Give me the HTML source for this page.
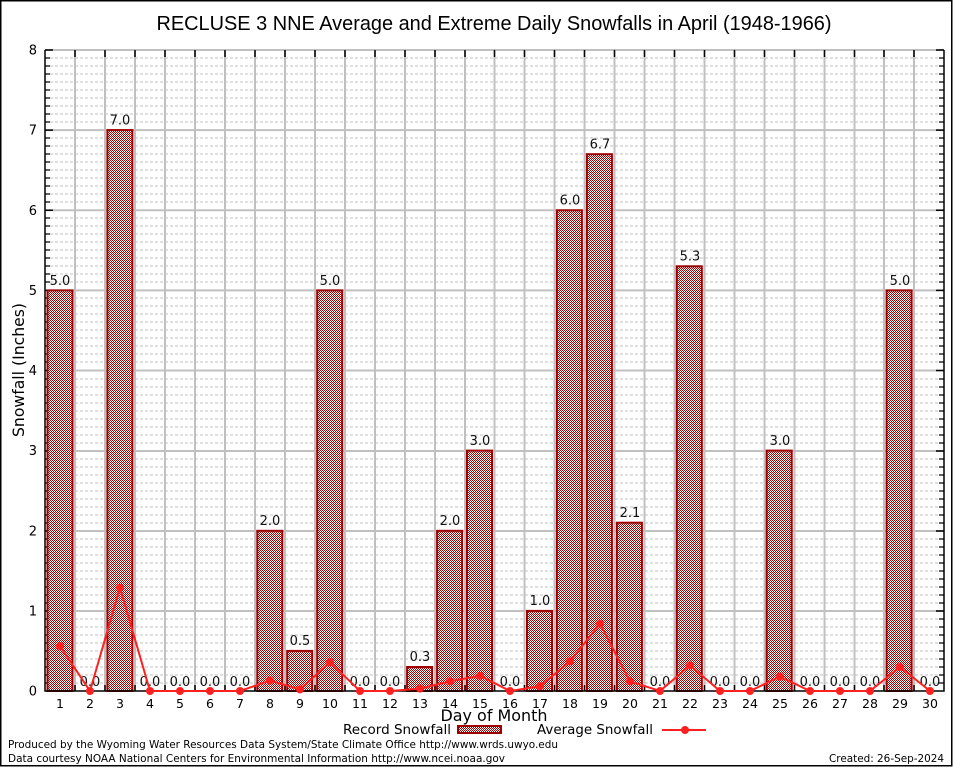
<!DOCTYPE html>
<html><head><meta charset="utf-8"><style>
html,body{margin:0;padding:0;background:#fff;}
svg{display:block;}
text{font-family:"DejaVu Sans","Liberation Sans",sans-serif;}
.ser{font-family:"Liberation Serif","DejaVu Serif",serif;font-size:12.5px;fill:#000;}
.val{font-size:13px;fill:#111;text-anchor:middle;}
</style></head><body>
<svg width="954" height="768" viewBox="0 0 954 768" xmlns="http://www.w3.org/2000/svg">
<defs>
<pattern id="p" width="2" height="2" patternUnits="userSpaceOnUse">
<rect width="2" height="2" fill="#fff"/>
<rect width="1" height="1" fill="#a40000"/>
<rect x="1" y="1" width="1" height="1" fill="#a40000"/>
</pattern>
</defs>
<rect x="0" y="0" width="954" height="768" fill="#fff"/>
<rect x="0.75" y="0.75" width="951" height="765" fill="none" stroke="#000" stroke-width="1.5"/>

<text x="494" y="30" text-anchor="middle" font-size="20" fill="#000" style="font-family:'Liberation Sans',sans-serif" textLength="675" lengthAdjust="spacingAndGlyphs">RECLUSE 3 NNE Average and Extreme Daily Snowfalls in April (1948-1966)</text>

<!-- dashed minor grid -->
<path fill="none" stroke="#c0c0c0" stroke-width="1" stroke-dasharray="3,2" d="
M45 683H944M45 675H944M45 667H944M45 659H944M45 651H944M45 643H944M45 635H944M45 627H944M45 619H944
M45 603H944M45 595H944M45 587H944M45 579H944M45 571H944M45 563H944M45 555H944M45 547H944M45 539H944
M45 523H944M45 515H944M45 507H944M45 499H944M45 491H944M45 483H944M45 475H944M45 467H944M45 459H944
M45 443H944M45 435H944M45 427H944M45 419H944M45 411H944M45 403H944M45 395H944M45 387H944M45 379H944
M45 362H944M45 354H944M45 346H944M45 338H944M45 330H944M45 322H944M45 314H944M45 306H944M45 298H944
M45 282H944M45 274H944M45 266H944M45 258H944M45 250H944M45 242H944M45 234H944M45 226H944M45 218H944
M45 202H944M45 194H944M45 186H944M45 178H944M45 170H944M45 162H944M45 154H944M45 146H944M45 138H944
M45 122H944M45 114H944M45 106H944M45 98H944M45 90H944M45 82H944M45 74H944M45 66H944M45 58H944"/>
<!-- solid major grid -->
<path fill="none" stroke="#c0c0c0" stroke-width="2" d="
M45 611H944M45 531H944M45 451H944M45 370.5H944M45 290.4H944M45 210.3H944M45 130.1H944M45 50H944
M75 50V691M105 50V691M135 50V691M165 50V691M195 50V691M225 50V691M255 50V691M285 50V691M315 50V691M345 50V691
M375 50V691M405 50V691M435 50V691M465 50V691M494.5 50V691M524.5 50V691M554.5 50V691M584.5 50V691M614.5 50V691M644.5 50V691
M674.5 50V691M704.5 50V691M734.5 50V691M764.5 50V691M794.5 50V691M824.5 50V691M854.5 50V691M884 50V691M914 50V691"/>

<!-- axis ticks -->
<path fill="none" stroke="#000" stroke-width="1.5" d="
M75 50V57M105 50V57M135 50V57M165 50V57M195 50V57M225 50V57M255 50V57M285 50V57M315 50V57M345 50V57
M375 50V57M405 50V57M435 50V57M465 50V57M494.5 50V57M524.5 50V57M554.5 50V57M584.5 50V57M614.5 50V57M644.5 50V57
M674.5 50V57M704.5 50V57M734.5 50V57M764.5 50V57M794.5 50V57M824.5 50V57M854.5 50V57M884 50V57M914 50V57
M75 691V685M105 691V685M135 691V685M165 691V685M195 691V685M225 691V685M255 691V685M285 691V685M315 691V685M345 691V685
M375 691V685M405 691V685M435 691V685M465 691V685M494.5 691V685M524.5 691V685M554.5 691V685M584.5 691V685M614.5 691V685M644.5 691V685
M674.5 691V685M704.5 691V685M734.5 691V685M764.5 691V685M794.5 691V685M824.5 691V685M854.5 691V685M884 691V685M914 691V685
M45 611H53M45 531H53M45 451H53M45 370.5H53M45 290.4H53M45 210.3H53M45 130.1H53M45 50H53
M944 611H936M944 531H936M944 451H936M944 370.5H936M944 290.4H936M944 210.3H936M944 130.1H936M944 50H936"/>
<path fill="none" stroke="#000" stroke-width="1.2" d="
M45 683H50M45 675H50M45 667H50M45 659H50M45 651H50M45 643H50M45 635H50M45 627H50M45 619H50
M45 603H50M45 595H50M45 587H50M45 579H50M45 571H50M45 563H50M45 555H50M45 547H50M45 539H50
M45 523H50M45 515H50M45 507H50M45 499H50M45 491H50M45 483H50M45 475H50M45 467H50M45 459H50
M45 443H50M45 435H50M45 427H50M45 419H50M45 411H50M45 403H50M45 395H50M45 387H50M45 379H50
M45 362H50M45 354H50M45 346H50M45 338H50M45 330H50M45 322H50M45 314H50M45 306H50M45 298H50
M45 282H50M45 274H50M45 266H50M45 258H50M45 250H50M45 242H50M45 234H50M45 226H50M45 218H50
M45 202H50M45 194H50M45 186H50M45 178H50M45 170H50M45 162H50M45 154H50M45 146H50M45 138H50
M45 122H50M45 114H50M45 106H50M45 98H50M45 90H50M45 82H50M45 74H50M45 66H50M45 58H50
M944 683H939M944 675H939M944 667H939M944 659H939M944 651H939M944 643H939M944 635H939M944 627H939M944 619H939
M944 603H939M944 595H939M944 587H939M944 579H939M944 571H939M944 563H939M944 555H939M944 547H939M944 539H939
M944 523H939M944 515H939M944 507H939M944 499H939M944 491H939M944 483H939M944 475H939M944 467H939M944 459H939
M944 443H939M944 435H939M944 427H939M944 419H939M944 411H939M944 403H939M944 395H939M944 387H939M944 379H939
M944 362H939M944 354H939M944 346H939M944 338H939M944 330H939M944 322H939M944 314H939M944 306H939M944 298H939
M944 282H939M944 274H939M944 266H939M944 258H939M944 250H939M944 242H939M944 234H939M944 226H939M944 218H939
M944 202H939M944 194H939M944 186H939M944 178H939M944 170H939M944 162H939M944 154H939M944 146H939M944 138H939
M944 122H939M944 114H939M944 106H939M944 98H939M944 90H939M944 82H939M944 74H939M944 66H939M944 58H939"/>

<!-- bars -->
<g fill="url(#p)" stroke="#a00000" stroke-width="2">
<rect x="47.5" y="290.4" width="25" height="400.6"/>
<rect x="107.4" y="130.1" width="25" height="560.9"/>
<rect x="257.3" y="530.8" width="25" height="160.2"/>
<rect x="287.2" y="650.9" width="25" height="40.1"/>
<rect x="317.2" y="290.4" width="25" height="400.6"/>
<rect x="407.1" y="667" width="25" height="24"/>
<rect x="437.1" y="530.8" width="25" height="160.2"/>
<rect x="467" y="450.6" width="25" height="240.4"/>
<rect x="527" y="610.9" width="25" height="80.1"/>
<rect x="556.9" y="210.3" width="25" height="480.7"/>
<rect x="586.9" y="154.2" width="25" height="536.8"/>
<rect x="616.9" y="522.7" width="25" height="168.3"/>
<rect x="676.8" y="266.3" width="25" height="424.7"/>
<rect x="766.7" y="450.6" width="25" height="240.4"/>
<rect x="886.6" y="290.4" width="25" height="400.6"/>
</g>

<!-- axes lines -->
<path fill="none" stroke="#000" stroke-width="1.5" d="M45 50V691H944V50"/>

<!-- value labels -->
<g class="val">
<text x="60" y="285">5.0</text>
<text x="90" y="686">0.0</text>
<text x="120" y="124.5">7.0</text>
<text x="150" y="686">0.0</text>
<text x="180" y="686">0.0</text>
<text x="210" y="686">0.0</text>
<text x="240" y="686">0.0</text>
<text x="270" y="525">2.0</text>
<text x="300" y="645">0.5</text>
<text x="330" y="285">5.0</text>
<text x="360" y="686">0.0</text>
<text x="390" y="686">0.0</text>
<text x="420" y="661">0.3</text>
<text x="450" y="525">2.0</text>
<text x="480" y="445">3.0</text>
<text x="510" y="686">0.0</text>
<text x="540" y="605">1.0</text>
<text x="570" y="204.5">6.0</text>
<text x="600" y="148.5">6.7</text>
<text x="630" y="517">2.1</text>
<text x="660" y="686">0.0</text>
<text x="690" y="260.5">5.3</text>
<text x="720" y="686">0.0</text>
<text x="750" y="686">0.0</text>
<text x="780" y="445">3.0</text>
<text x="810" y="686">0.0</text>
<text x="840" y="686">0.0</text>
<text x="870" y="686">0.0</text>
<text x="900" y="285">5.0</text>
<text x="930" y="686">0.0</text>
</g>

<!-- average line -->
<polyline fill="none" stroke="#ff2020" stroke-width="2" points="60,646.1 90,691 120,587.6 150,691 180,691 210,691 240,691 270,680.6 300,689.4 330,662.2 360,691 390,691 420,688.6 450,681.4 480,675.8 510,691 540,686.2 570,661.4 600,623.7 630,681.4 660,691 690,665.4 720,691 750,691 780,676.6 810,691 840,691 870,691 900,667 930,691"/>
<g fill="#ff2020" stroke="none">
<circle cx="60" cy="646.1" r="4"/><circle cx="90" cy="691" r="4"/><circle cx="120" cy="587.6" r="4"/>
<circle cx="150" cy="691" r="4"/><circle cx="180" cy="691" r="4"/><circle cx="210" cy="691" r="4"/>
<circle cx="240" cy="691" r="4"/><circle cx="270" cy="680.6" r="4"/><circle cx="300" cy="689.4" r="4"/>
<circle cx="330" cy="662.2" r="4"/><circle cx="360" cy="691" r="4"/><circle cx="390" cy="691" r="4"/>
<circle cx="420" cy="688.6" r="4"/><circle cx="450" cy="681.4" r="4"/><circle cx="480" cy="675.8" r="4"/>
<circle cx="510" cy="691" r="4"/><circle cx="540" cy="686.2" r="4"/><circle cx="570" cy="661.4" r="4"/>
<circle cx="600" cy="623.7" r="4"/><circle cx="630" cy="681.4" r="4"/><circle cx="660" cy="691" r="4"/>
<circle cx="690" cy="665.4" r="4"/><circle cx="720" cy="691" r="4"/><circle cx="750" cy="691" r="4"/>
<circle cx="780" cy="676.6" r="4"/><circle cx="810" cy="691" r="4"/><circle cx="840" cy="691" r="4"/>
<circle cx="870" cy="691" r="4"/><circle cx="900" cy="667" r="4"/><circle cx="930" cy="691" r="4"/>
</g>

<!-- y tick labels -->
<g class="ser" text-anchor="end" style="font-size:13px">
<text x="37" y="695.5">0</text>
<text x="37" y="615.5">1</text>
<text x="37" y="535.5">2</text>
<text x="37" y="455">3</text>
<text x="37" y="375">4</text>
<text x="37" y="295">5</text>
<text x="37" y="215">6</text>
<text x="37" y="134.5">7</text>
<text x="37" y="54.5">8</text>
</g>
<!-- x tick labels -->
<g class="ser" text-anchor="middle">
<text x="60" y="708">1</text><text x="90" y="708">2</text><text x="120" y="708">3</text><text x="150" y="708">4</text>
<text x="180" y="708">5</text><text x="210" y="708">6</text><text x="240" y="708">7</text><text x="270" y="708">8</text>
<text x="300" y="708">9</text><text x="330" y="708">10</text><text x="360" y="708">11</text><text x="390" y="708">12</text>
<text x="420" y="708">13</text><text x="450" y="708">14</text><text x="480" y="708">15</text><text x="510" y="708">16</text>
<text x="540" y="708">17</text><text x="570" y="708">18</text><text x="600" y="708">19</text><text x="630" y="708">20</text>
<text x="660" y="708">21</text><text x="690" y="708">22</text><text x="720" y="708">23</text><text x="750" y="708">24</text>
<text x="780" y="708">25</text><text x="810" y="708">26</text><text x="840" y="708">27</text><text x="870" y="708">28</text>
<text x="900" y="708">29</text><text x="930" y="708">30</text>
</g>

<!-- axis titles -->
<text x="494" y="721" text-anchor="middle" font-size="16" fill="#000" textLength="107" lengthAdjust="spacingAndGlyphs">Day of Month</text>
<text transform="translate(24,370) rotate(-90)" text-anchor="middle" font-size="16" fill="#000" textLength="134" lengthAdjust="spacingAndGlyphs">Snowfall (Inches)</text>

<!-- legend -->
<text x="451" y="734" text-anchor="end" font-size="13" fill="#000" textLength="108" lengthAdjust="spacingAndGlyphs">Record Snowfall</text>
<rect x="458" y="726" width="43" height="7" fill="url(#p)" stroke="#a00000" stroke-width="2"/>
<text x="537" y="734" font-size="13" fill="#000" textLength="116" lengthAdjust="spacingAndGlyphs">Average Snowfall</text>
<line x1="662" y1="730" x2="706" y2="730" stroke="#ff2020" stroke-width="2"/>
<circle cx="685" cy="730" r="4" fill="#ff2020"/>

<!-- footer -->
<text x="8" y="748" font-size="10.5" fill="#000" textLength="550" lengthAdjust="spacingAndGlyphs">Produced by the Wyoming Water Resources Data System/State Climate Office http://www.wrds.uwyo.edu</text>
<text x="8" y="762" font-size="10.5" fill="#000" textLength="497" lengthAdjust="spacingAndGlyphs">Data courtesy NOAA National Centers for Environmental Information http://www.ncei.noaa.gov</text>
<text x="944" y="762" text-anchor="end" font-size="10.5" fill="#000" textLength="115" lengthAdjust="spacingAndGlyphs">Created: 26-Sep-2024</text>
</svg>
</body></html>
